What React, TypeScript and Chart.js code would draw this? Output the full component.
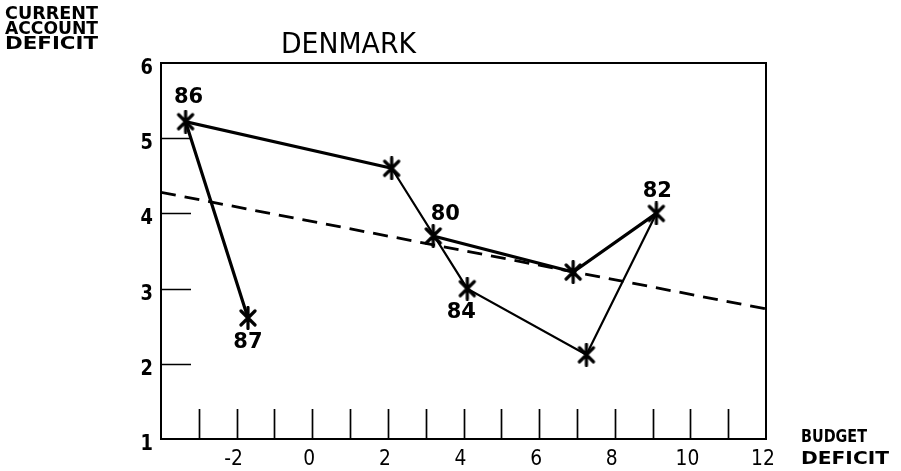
import React, { useEffect, useRef } from "react";
import { Chart, registerables } from "chart.js";

Chart.register(...registerables);

// ---- data ----
const years = ["80", "81", "82", "83", "84", "85", "86", "87"];
const budgetDeficit = [3.2, 6.9, 9.1, 7.25, 4.1, 2.1, -3.35, -1.7];
const currentAccountDeficit = [3.7, 3.22, 4.0, 2.12, 3.0, 4.6, 5.22, 2.61];
const pointLabels = ["80", "", "82", "", "84", "", "86", "87"];

const trendX = [-4, 12];
const trendY = [4.28, 2.73];

const xMin = -4;
const xMax = 12;
const yMin = 1;
const yMax = 6;
const xTickMarks = [-3, -2, -1, 0, 1, 2, 3, 4, 5, 6, 7, 8, 9, 10, 11];
const xTickValues = [-2, 0, 2, 4, 6, 8, 10, 12];
const xTickLabels = ["-2", "0", "2", "4", "6", "8", "10", "12"];
const yTickMarks = [2, 3, 4, 5];
const yTickValues = [1, 2, 3, 4, 5, 6];
const yTickLabels = ["1", "2", "3", "4", "5", "6"];

const titleText = "DENMARK";
const yTitleLines = ["CURRENT", "ACCOUNT", "DEFICIT"];
const xTitleLines = ["BUDGET", "DEFICIT"];

// segments drawn with heavier pen
const heavySegments = [0, 1, 5, 6];

// label placement relative to its point (style)
const labelOffsets: Array<[number, number]> = [
  [12, -21], [0, 0], [1, -22], [0, 0], [-6, 24], [0, 0], [3, -24], [0, 25],
];

function makeAsterisk(): HTMLCanvasElement {
  const c = document.createElement("canvas");
  c.width = 20;
  c.height = 24;
  const g = c.getContext("2d")!;
  g.strokeStyle = "#000";
  g.lineWidth = 3.2;
  g.lineCap = "round";
  g.beginPath();
  g.moveTo(3, 5); g.lineTo(17, 19);
  g.moveTo(17, 5); g.lineTo(3, 19);
  g.moveTo(10, 1.5); g.lineTo(10, 22.5);
  g.stroke();
  return c;
}

function fitText(ctx: CanvasRenderingContext2D, text: string, x: number, y: number, width: number, font: string) {
  ctx.save();
  ctx.font = font;
  ctx.textAlign = "left";
  ctx.textBaseline = "alphabetic";
  const w = ctx.measureText(text).width;
  ctx.translate(x, y);
  ctx.scale(width / w, 1);
  ctx.fillText(text, 0, 0);
  ctx.restore();
}

const framePlugin = {
  id: "plotterFrame",
  beforeDatasetsDraw(chart: any) {
    const { ctx, chartArea } = chart;
    const xs = chart.scales.x;
    const ys = chart.scales.y;
    ctx.save();
    ctx.strokeStyle = "#000";
    ctx.lineWidth = 2;
    ctx.strokeRect(chartArea.left, chartArea.top, chartArea.right - chartArea.left, chartArea.bottom - chartArea.top);
    ctx.lineWidth = 1.7;
    ctx.beginPath();
    for (const v of xTickMarks) {
      const px = Math.round(xs.getPixelForValue(v)) + 0.5;
      ctx.moveTo(px, chartArea.bottom);
      ctx.lineTo(px, chartArea.bottom - 30);
    }
    for (const v of yTickMarks) {
      const py = Math.round(ys.getPixelForValue(v)) + 0.5;
      ctx.moveTo(chartArea.left, py);
      ctx.lineTo(chartArea.left + 30, py);
    }
    ctx.stroke();

    ctx.fillStyle = "#000";
    // x tick labels
    ctx.font = "22px 'DejaVu Sans'";
    xTickValues.forEach((v, i) => {
      const t = xTickLabels[i];
      const w = ctx.measureText(t).width * 0.85;
      fitText(ctx, t, xs.getPixelForValue(v) - 3 - w / 2, chartArea.bottom + 26, w, "22px 'DejaVu Sans'");
    });
    // y tick labels
    ctx.font = "bold 21px 'DejaVu Sans'";
    yTickValues.forEach((v, i) => {
      const t = yTickLabels[i];
      const w = ctx.measureText(t).width * 0.85;
      fitText(ctx, t, chartArea.left - 8 - w, ys.getPixelForValue(v) + 11, w, "bold 21px 'DejaVu Sans'");
    });

    // title
    fitText(ctx, titleText, 281, 53, 135, "29px 'DejaVu Sans'");
    // y-axis title
    yTitleLines.forEach((t, i) => {
      fitText(ctx, t, 5, 19 + i * 15, 93, "bold 18px 'DejaVu Sans'");
    });
    // x-axis title
    fitText(ctx, xTitleLines[0], 801, 442, 66, "bold 18px 'DejaVu Sans'");
    fitText(ctx, xTitleLines[1], 801, 464, 88, "bold 18px 'DejaVu Sans'");
    ctx.restore();
  },
  afterDatasetsDraw(chart: any) {
    const { ctx } = chart;
    const xs = chart.scales.x;
    const ys = chart.scales.y;
    ctx.save();
    ctx.fillStyle = "#000";
    ctx.font = "bold 21px 'DejaVu Sans'";
    ctx.textAlign = "center";
    ctx.textBaseline = "middle";
    pointLabels.forEach((t, i) => {
      if (!t) return;
      const [dx, dy] = labelOffsets[i];
      ctx.fillText(t, xs.getPixelForValue(budgetDeficit[i]) + dx, ys.getPixelForValue(currentAccountDeficit[i]) + dy);
    });
    ctx.restore();
  },
};

export default function App() {
  const ref = useRef<HTMLCanvasElement | null>(null);
  useEffect(() => {
    document.body.style.margin = "0";
    const canvas = ref.current!;
    const star = makeAsterisk();
    const chart = new Chart(canvas, {
      type: "scatter",
      data: {
        datasets: [
          {
            label: "Trend",
            data: trendX.map((x, i) => ({ x, y: trendY[i] })),
            showLine: true,
            borderColor: "#000",
            borderWidth: 2.8,
            borderDash: [15, 9],
            pointRadius: 0,
          },
          {
            label: "Denmark",
            data: budgetDeficit.map((x, i) => ({ x, y: currentAccountDeficit[i] })),
            showLine: true,
            borderColor: "#000",
            borderWidth: 2.2,
            segment: {
              borderWidth: (c: any) => (heavySegments.includes(c.p0DataIndex) ? 3.2 : 2.2),
            },
            pointStyle: star as any,
            pointRadius: 10,
            clip: false as any,
          },
        ],
      },
      options: {
        animation: false,
        responsive: false,
        devicePixelRatio: 1,
        layout: { padding: { left: 161, right: 135, top: 63, bottom: 32 } },
        plugins: { legend: { display: false }, tooltip: { enabled: false }, title: { display: false } },
        scales: {
          x: { type: "linear", min: xMin, max: xMax, display: false },
          y: { type: "linear", min: yMin, max: yMax, display: false },
        },
      },
      plugins: [framePlugin],
    });
    return () => chart.destroy();
  }, []);
  return (
    <div style={{ width: 901, height: 471, background: "#fff" }}>
      <canvas ref={ref} width={901} height={471} style={{ display: "block" }} />
    </div>
  );
}
